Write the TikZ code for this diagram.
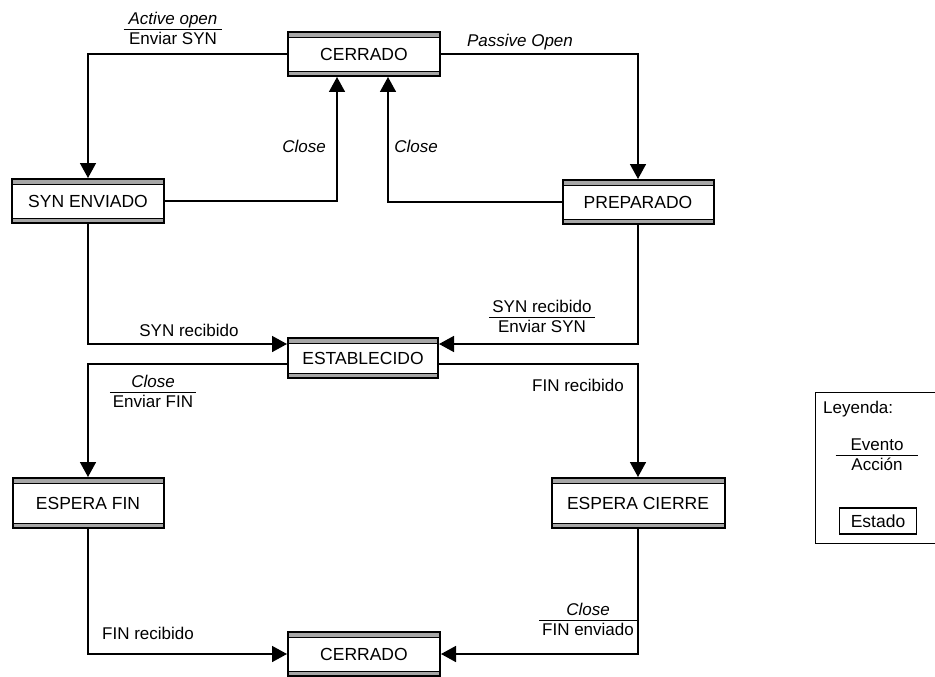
\documentclass[tikz,border=0pt]{standalone}
\usepackage{fontspec}
\setmainfont{Liberation Sans}
\usetikzlibrary{arrows.meta}
\newcommand{\evac}[3][3pt]{\begin{tabular}{@{\hspace{#1}}c@{\hspace{#1}}}#2\\[-1pt]\hline\rule{0pt}{15pt}#3\end{tabular}}
\tikzset{
  estado/.style={draw, line width=2pt, minimum width=152pt, minimum height=44pt,
    inner sep=0pt, fill=white, font=\fontsize{17.5}{19}\selectfont,
    path picture={
      \fill[gray!70] (path picture bounding box.north west) rectangle ([yshift=-5pt]path picture bounding box.north east);
      \fill[gray!70] (path picture bounding box.south west) rectangle ([yshift=5pt]path picture bounding box.south east);
      \draw[line width=0.8pt] ([yshift=-5pt]path picture bounding box.north west) -- ([yshift=-5pt]path picture bounding box.north east);
      \draw[line width=0.8pt] ([yshift=5pt]path picture bounding box.south west) -- ([yshift=5pt]path picture bounding box.south east);
    }},
  flecha/.style={line width=1.6pt, -{Triangle[length=15pt,width=16pt]}},
  etiqueta/.style={font=\fontsize{17}{18}\selectfont, inner sep=0pt},
}
\begin{document}
\begin{tikzpicture}[x=1pt, y=-1pt]
    \useasboundingbox (0,0) rectangle (935,677);

    % States
    \node[estado] (cerrado1) at (364,54) {CERRADO};
    \node[estado] (synenv) at (88,201) {SYN ENVIADO};
    \node[estado, minimum width=151pt] (prep) at (638,202) {PREPARADO};
    \node[estado, minimum width=150pt, minimum height=40pt] (estab) at (363,358) {ESTABLECIDO};
    \node[estado, minimum width=151pt, minimum height=50pt] (espfin) at (88,503) {ESPERA FIN};
    \node[estado, minimum width=173pt, minimum height=50pt] (espcierre) at (638,503) {ESPERA CIERRE};
    \node[estado] (cerrado2) at (364,654) {CERRADO};

    % Transitions
    \draw[flecha] (cerrado1.west) -| (synenv.north);
    \draw[flecha] (cerrado1.east) -| (prep.north);
    \draw[flecha] (synenv.east) -| ([xshift=-27pt]cerrado1.south);
    \draw[flecha] (prep.west) -| ([xshift=24pt]cerrado1.south);
    \draw[flecha] (synenv.south) |- ([yshift=14pt]estab.west);
    \draw[flecha] (prep.south) |- ([yshift=14pt]estab.east);
    \draw[flecha] ([yshift=-6pt]estab.west) -| (espfin.north);
    \draw[flecha] ([yshift=-6pt]estab.east) -| (espcierre.north);
    \draw[flecha] (espfin.south) |- (cerrado2.west);
    \draw[flecha] (espcierre.south) |- (cerrado2.east);

    % Labels
    \node[etiqueta] (lactive) at (173,31) {\evac[5pt]{\itshape Active open}{Enviar SYN}};
    \node[etiqueta] (lpassive) at (520,42) {\itshape Passive Open};
    \node[etiqueta] (lclose1) at (304,146) {\itshape Close};
    \node[etiqueta] (lclose2) at (416,146) {\itshape Close};
    \node[etiqueta] (lsynrec) at (189,330) {SYN recibido};
    \node[etiqueta] (lsynenv) at (542,319) {\evac{SYN recibido}{Enviar SYN}};
    \node[etiqueta] (lclose3) at (153,394) {\evac{\itshape Close}{Enviar FIN}};
    \node[etiqueta] (lfinrec1) at (578,385) {FIN recibido};
    \node[etiqueta] (lfinrec2) at (148,633) {FIN recibido};
    \node[etiqueta] (lclose4) at (588,622) {\evac{\itshape Close}{FIN enviado}};

    % Legend
    \draw[line width=0.9pt] (936,392) -| (815,543) -- (936,543);
    \node[etiqueta, anchor=west] (leyenda) at (823,409) {Leyenda:};
    \node[etiqueta] (lev) at (877,457) {\evac[15pt]{Evento}{Acción}};
    \node[estado, minimum width=77pt, minimum height=26pt, line width=1.6pt,
          path picture={}] (lestado) at (878,521) {Estado};
\end{tikzpicture}
\end{document}
